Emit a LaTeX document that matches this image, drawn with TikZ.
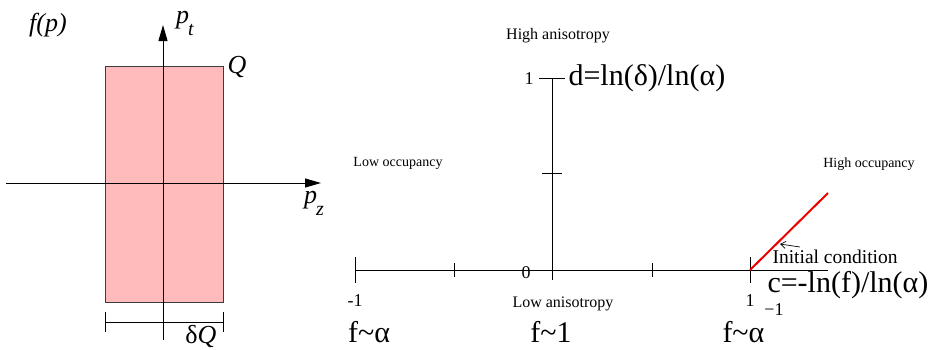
\documentclass[tikz,border=0pt]{standalone}
\usepackage{fontspec}
\setmainfont{Liberation Serif}
\usetikzlibrary{arrows.meta}
\definecolor{boxpink}{RGB}{255,187,187}
\definecolor{boxedge}{RGB}{60,60,60}
\definecolor{linered}{RGB}{235,0,0}
\tikzset{
  txt/.style={inner sep=0pt, anchor=base},
  small/.style={txt, font=\fontsize{14}{16}\selectfont},
  medium/.style={txt, font=\fontsize{16}{18}\selectfont},
  ticklbl/.style={txt, font=\fontsize{18}{20}\selectfont},
  big/.style={txt, font=\fontsize{30}{32}\selectfont},
  ital/.style={txt, font=\fontsize{26}{28}\selectfont\itshape},
  axisarrow/.style={-{Triangle[length=16pt,width=9pt]}},
}
\begin{document}
\begin{tikzpicture}[x=1pt,y=-1pt,line width=1pt]
  \useasboundingbox (0,0) rectangle (935,349);
  % distribution in momentum space
  \node[draw=boxedge, fill=boxpink, minimum width=118pt, minimum height=236pt, inner sep=0pt] (box) at (164,184) {};
  \coordinate (pzl) at (6,183);
  \coordinate (pzr) at (321,183);
  \coordinate (ptb) at (163,340);
  \coordinate (ptt) at (163,25);
  \draw[axisarrow] (pzl) -- (pzr);
  \draw[axisarrow] (ptb) -- (ptt);
  \coordinate (dl) at (105,322);
  \coordinate (dr) at (223,322);
  \draw (dl) -- (dr);
  \draw ([yshift=10pt]dl) -- ([yshift=-10pt]dl);
  \draw ([yshift=10pt]dr) -- ([yshift=-10pt]dr);
  \node[ital] (fp) at (48,31) {f(p)};
  \node[ital] (ptlbl) at (185,23) {p\kern-1pt\raisebox{-12pt}{\fontsize{20}{20}\selectfont t}};
  \node[ital] (qlbl) at (237,73) {Q};
  \node[ital] (pzlbl) at (314,203) {p\kern-1pt\raisebox{-12pt}{\fontsize{20}{20}\selectfont z}};
  \node[ital] (dq) at (201,343) {\upshape δ\itshape Q};
  % phase diagram
  \coordinate (xl) at (355,270);
  \coordinate (xr) at (828,270);
  \coordinate (yb) at (552,280);
  \coordinate (yt) at (552,78);
  \coordinate (init) at (750,270);
  \coordinate (flow) at (828,193);
  \draw (xl) -- (xr);
  \foreach \x/\h in {355/13,454/7,652/7,750/13}
    \draw (\x,{270-\h}) -- (\x,{270+\h});
  \draw (yb) -- (yt);
  \draw (539,78) -- (565,78);
  \draw (542,173) -- (562,173);
  \draw[linered, line width=2pt] (init) -- (flow);
  \node[ticklbl] (one) at (529,84) {1};
  \node[ticklbl] (zero) at (526,278) {0};
  \node[ticklbl] (mone) at (355,306) {-1};
  \node[ticklbl] (pone) at (750,306) {1};
  \node[medium] (highani) at (558,39) {High anisotropy};
  \node[medium] (lowani) at (563,307) {Low anisotropy};
  \node[small] (lowocc) at (398,166) {Low occupancy};
  \node[small] (highocc) at (869,167) {High occupancy};
  \node[big, anchor=base west] (dlbl) at (568,85) {d=ln(δ)/ln(α)};
  \node[big, anchor=base west] (clbl) at (767,292) {c=-ln(f)/ln(α)};
  \node[big] (falpha) at (369,342) {f\string~α};
  \node[big] (fone) at (551,342) {f\string~1};
  \node[big, anchor=base west] (finv) at (722,342) {f\string~α\raisebox{27pt}{\fontsize{18}{18}\selectfont −1}};
  \node[txt, anchor=base west, font=\fontsize{19.5}{21}\selectfont] (initlbl) at (772,263) {Initial condition};
  \coordinate (arrs) at (800,247);
  \coordinate (arre) at (780,244);
  \draw[-{Straight Barb[length=5pt,width=7pt]}, line width=0.7pt] (arrs) -- (arre);
\end{tikzpicture}
\end{document}
